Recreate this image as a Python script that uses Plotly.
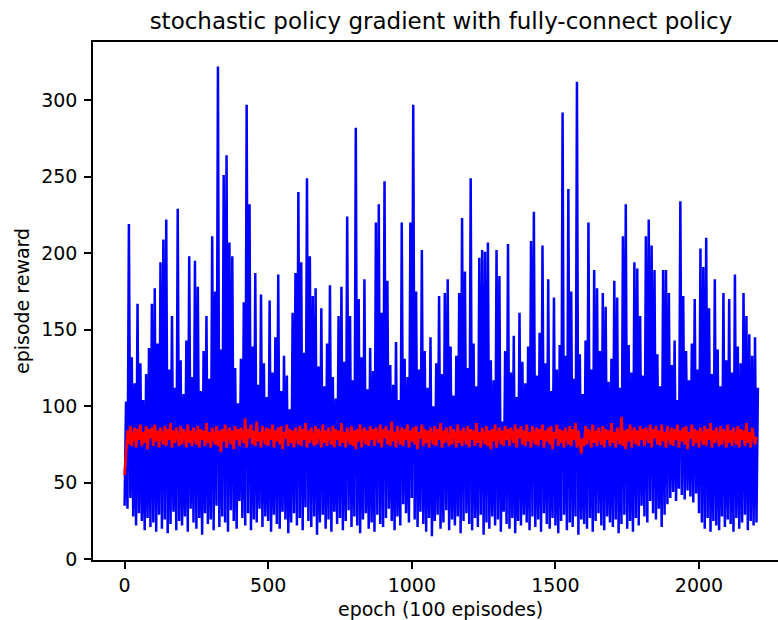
import plotly.graph_objects as go

# ---- data ----
# blue series: alternating local lows (at epoch 10*i) and highs (at epoch 10*i+5)
reward_low = [
    35, 33, 40, 28, 22, 30, 25, 19, 27, 21,
    24, 18, 29, 20, 26, 17, 23, 31, 19, 25,
    22, 28, 18, 33, 24, 20, 27, 16, 30, 23,
    26, 19, 35, 21, 28, 24, 18, 32, 25, 20,
    38, 27, 22, 30, 19, 26, 24, 33, 21, 28,
    25, 18, 29, 23, 20, 31, 26, 17, 24, 30,
    22, 27, 19, 34, 25, 21, 28, 16, 24, 29,
    20, 26, 18, 31, 23, 27, 19, 25, 32, 21,
    28, 22, 17, 26, 30, 20, 24, 18, 29, 23,
    21, 27, 33, 25, 19, 28, 22, 36, 30, 24,
    40, 26, 21, 31, 23, 18, 27, 15, 25, 29,
    20, 24, 32, 19, 26, 22, 28, 17, 25, 30,
    23, 19, 27, 21, 29, 16, 24, 20, 28, 22,
    26, 18, 31, 23, 20, 27, 17, 25, 22, 29,
    24, 19, 28, 21, 26, 18, 30, 23, 20, 27,
    22, 17, 25, 29, 19, 24, 21, 28, 16, 26,
    23, 20, 27, 18, 25, 30, 22, 19, 28, 24,
    21, 26, 17, 23, 29, 20, 25, 18, 27, 22,
    35, 28, 24, 38, 30, 26, 33, 21, 29, 36,
    40, 44, 38, 46, 42, 39, 45, 41, 37, 43,
    30, 24, 20, 27, 18, 25, 22, 19, 28, 21,
    26, 23, 18, 27, 20, 24, 29, 19, 25, 22,
    24,
]
reward_high = [
    103, 219, 132, 115, 167, 128, 104, 121, 138, 167,
    177, 141, 194, 209, 222, 124, 159, 112, 229, 130,
    108, 143, 198, 119, 195, 178, 110, 136, 159, 118,
    211, 175, 322, 137, 251, 264, 207, 198, 125, 102,
    131, 168, 297, 232, 139, 187, 114, 173, 128, 106,
    169, 122, 145, 186, 110, 133, 120, 98, 161, 187,
    240, 194, 135, 249, 198, 172, 177, 126, 164, 113,
    141, 179, 119, 105, 159, 178, 129, 224, 159, 117,
    282, 170, 132, 183, 111, 138, 123, 220, 232, 161,
    247, 182, 127, 114, 142, 104, 220, 131, 119, 220,
    297, 175, 124, 202, 136, 112, 145, 100, 128, 172,
    121, 174, 183, 139, 107, 133, 174, 223, 188, 125,
    249, 141, 113, 197, 202, 201, 207, 130, 117, 202,
    185, 90, 136, 206, 122, 146, 106, 161, 129, 115,
    139, 208, 227, 120, 148, 205, 128, 183, 110, 171,
    124, 140, 292, 133, 242, 175, 118, 312, 134, 108,
    143, 220, 124, 189, 177, 136, 174, 165, 116, 131,
    182, 171, 112, 211, 232, 140, 122, 194, 190, 159,
    120, 211, 222, 205, 189, 134, 113, 189, 189, 174,
    127, 143, 104, 234, 172, 136, 117, 141, 170, 124,
    203, 191, 210, 164, 121, 183, 137, 113, 174, 130,
    170, 122, 186, 139, 128, 174, 159, 147, 133, 145,
    112,
]
# red series (running average), one value every 5 epochs
avg_reward = [
    55, 68, 84, 75, 87, 74, 82, 86, 73, 85, 78, 88, 74, 83, 76, 87, 72, 85, 79, 86,
    74, 88, 77, 84, 73, 86, 81, 75, 87, 74, 85, 78, 89, 73, 84, 76, 86, 79, 74, 87,
    75, 85, 82, 73, 88, 76, 84, 74, 86, 80, 75, 87, 73, 85, 78, 84, 74, 89, 76, 83,
    73, 86, 79, 75, 87, 74, 84, 70, 85, 77, 88, 73, 82, 86, 75, 84, 72, 87, 78, 85,
    74, 86, 81, 76, 92, 73, 85, 79, 88, 75, 84, 74, 90, 77, 83, 73, 87, 80, 75, 86,
    74, 85, 78, 88, 73, 84, 77, 86, 75, 87, 72, 83, 79, 88, 74, 85, 76, 84, 73, 86,
    80, 75, 87, 74, 85, 78, 89, 73, 84, 76, 86, 79, 74, 87, 75, 85, 82, 73, 88, 76,
    84, 74, 86, 80, 75, 87, 73, 85, 78, 84, 74, 89, 76, 83, 73, 86, 79, 75, 87, 74,
    84, 72, 85, 77, 88, 73, 82, 86, 75, 84, 74, 87, 78, 85, 74, 86, 81, 76, 88, 73,
    85, 79, 87, 75, 84, 74, 90, 77, 83, 73, 87, 80, 75, 86, 74, 85, 78, 88, 73, 84,
    77, 86, 75, 87, 72, 83, 79, 88, 74, 85, 76, 84, 73, 86, 80, 75, 87, 74, 85, 78,
    89, 73, 84, 76, 86, 79, 74, 87, 75, 85, 82, 73, 88, 76, 84, 74, 86, 80, 75, 87,
    73, 85, 78, 84, 74, 89, 76, 83, 73, 86, 79, 75, 87, 74, 84, 72, 85, 77, 88, 73,
    82, 86, 75, 84, 74, 87, 78, 85, 74, 86, 81, 76, 88, 73, 85, 79, 87, 75, 84, 74,
    88, 77, 83, 73, 87, 80, 75, 86, 74, 85, 78, 88, 73, 84, 77, 86, 75, 87, 72, 83,
    79, 88, 74, 85, 76, 84, 73, 86, 80, 75, 87, 74, 85, 78, 89, 73, 84, 76, 69, 79,
    74, 87, 75, 85, 82, 73, 88, 76, 84, 74, 86, 80, 75, 87, 73, 85, 78, 84, 74, 89,
    76, 83, 73, 86, 79, 75, 93, 74, 84, 72, 85, 77, 88, 73, 82, 86, 75, 84, 74, 87,
    78, 85, 74, 86, 81, 76, 88, 73, 85, 79, 87, 75, 84, 74, 88, 77, 83, 73, 87, 80,
    75, 86, 74, 85, 78, 88, 73, 84, 77, 86, 75, 87, 72, 83, 79, 88, 74, 85, 76, 84,
    73, 86, 80, 75, 87, 74, 85, 78, 89, 73, 84, 76, 86, 79, 74, 87, 75, 85, 82, 73,
    88, 76, 84, 74, 86, 80, 75, 87, 73, 85, 78, 84, 74, 89, 76, 83, 73, 86, 79, 75,
    80,
]
x_ticks = [0, 500, 1000, 1500, 2000]
y_ticks = [0, 50, 100, 150, 200, 250, 300]
title_text = "stochastic policy gradient with fully-connect policy"
x_label = "epoch (100 episodes)"
y_label = "episode reward"

# interleave lows and highs into one series
blue_x, blue_y = [], []
for i, (lo, hi) in enumerate(zip(reward_low, reward_high)):
    blue_x += [10 * i, 10 * i + 5]
    blue_y += [lo, hi]
red_x = [5 * i for i in range(len(avg_reward))]

FONT = "DejaVu Sans"

fig = go.Figure()
fig.add_trace(go.Scatter(x=blue_x, y=blue_y, mode="lines",
                         line=dict(color="#0000ff", width=2.5), showlegend=False))
fig.add_trace(go.Scatter(x=red_x, y=avg_reward, mode="lines",
                         line=dict(color="#ff0000", width=2.7), showlegend=False))

fig.update_layout(
    width=778, height=620,
    margin=dict(l=93, r=0, t=42, b=60),
    paper_bgcolor="white", plot_bgcolor="white",
    font=dict(family=FONT, size=19, color="#000000"),
    title=dict(text=title_text, x=441 / 778, xanchor="center", xref="container",
               y=1 - 21 / 620, yanchor="middle", yref="container",
               font=dict(family=FONT, size=23, color="#000000")),
    annotations=[
        dict(text=x_label, xref="paper", yref="paper", x=(440 - 93) / 685, y=-(609 - 560) / 518,
             xanchor="center", yanchor="middle", showarrow=False,
             font=dict(family=FONT, size=19, color="#000000")),
        dict(text=y_label, xref="paper", yref="paper", x=-(93 - 22) / 685, y=(560 - 301) / 518,
             xanchor="center", yanchor="middle", showarrow=False, textangle=-90,
             font=dict(family=FONT, size=19, color="#000000")),
    ],
)
fig.update_xaxes(range=[-110, 2275], tickvals=x_ticks, ticks="outside", ticklen=7,
                 tickwidth=1.5, tickcolor="#000", showline=True, linecolor="#000",
                 linewidth=1.5, mirror=True, showgrid=False, zeroline=False,
                 ticklabelstandoff=0)
fig.update_yaxes(range=[-0.5, 338], tickvals=y_ticks, ticks="outside", ticklen=7,
                 tickwidth=1.5, tickcolor="#000", showline=True, linecolor="#000",
                 linewidth=1.5, mirror=False, showgrid=False, zeroline=False,
                 ticklabelstandoff=3)

fig.write_html("out.html", config={"displayModeBar": False},
               post_script="document.body.style.margin='0';document.body.style.overflow='hidden';")
